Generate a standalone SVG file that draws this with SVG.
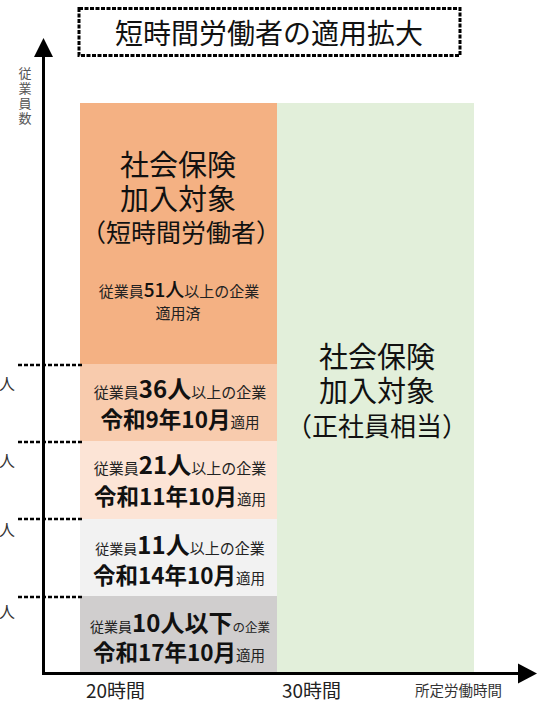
<svg xmlns="http://www.w3.org/2000/svg" width="542" height="707" viewBox="0 0 542 707">
<style>
text{font-family:"Noto Sans CJK JP","Noto Sans",sans-serif;fill:#111}
.big{font-size:29px}
.s{font-size:15px;fill:#222}
.n{font-size:24px;font-weight:700}
.d{font-size:22.5px;font-weight:700}
.a{font-size:14.5px;fill:#222}
.dash{stroke:#000;stroke-width:2.5;stroke-dasharray:4 2;fill:none}
.lab{font-size:19px;fill:#222}
.side{font-size:16px;fill:#333}
.ax{font-size:13px;fill:#555}
</style>
<rect width="542" height="707" fill="#fff"/>
<g id="title">
<rect x="79" y="8.5" width="381" height="47" fill="#fff" stroke="#000" stroke-width="3" stroke-dasharray="4 1.5"/>
<text x="269" y="44" text-anchor="middle" style="font-size:28px">短時間労働者の適用拡大</text>
</g>
<g id="green">
<rect x="277" y="103" width="197" height="570" fill="#E2EFDA"/>
<text text-anchor="middle"><tspan class="big" x="377" y="368">社会保険</tspan><tspan class="big" x="377" y="402">加入対象</tspan><tspan x="377" y="436" style="font-size:26px">（正社員相当）</tspan></text>
</g>
<g id="orange">
<rect x="80" y="103" width="197" height="261" fill="#F4B183"/>
<text text-anchor="middle"><tspan class="big" x="178" y="176">社会保険</tspan><tspan class="big" x="178" y="210">加入対象</tspan><tspan x="181" y="242" style="font-size:25px">（短時間労働者）</tspan></text>
<text x="179" y="297" text-anchor="middle"><tspan class="s">従業員</tspan><tspan style="font-size:19px;font-weight:500">51人</tspan><tspan class="s">以上の企業</tspan></text>
<text class="s" x="178" y="319" text-anchor="middle">適用済</text>
</g>
<g id="b36">
<rect x="80" y="364" width="197" height="77" fill="#F8CBAD"/>
<text x="180" y="398" text-anchor="middle"><tspan class="s">従業員</tspan><tspan class="n">36人</tspan><tspan class="s">以上の企業</tspan></text>
<text x="180" y="428" text-anchor="middle"><tspan class="d">令和9年10月</tspan><tspan class="a">適用</tspan></text>
</g>
<g id="b21">
<rect x="80" y="441" width="197" height="78" fill="#FCE4D6"/>
<text x="180" y="474" text-anchor="middle"><tspan class="s">従業員</tspan><tspan class="n">21人</tspan><tspan class="s">以上の企業</tspan></text>
<text x="180" y="505" text-anchor="middle"><tspan class="d">令和11年10月</tspan><tspan class="a">適用</tspan></text>
</g>
<g id="b11">
<rect x="80" y="519" width="197" height="77" fill="#F2F2F2"/>
<text x="180" y="554" text-anchor="middle"><tspan class="s" style="font-size:14px">従業員</tspan><tspan class="n">11人</tspan><tspan class="s">以上の企業</tspan></text>
<text x="179" y="584" text-anchor="middle"><tspan class="d">令和14年10月</tspan><tspan class="a">適用</tspan></text>
</g>
<g id="b10">
<rect x="80" y="596" width="197" height="77" fill="#D0CECE"/>
<text x="180" y="632" text-anchor="middle"><tspan class="s" style="font-size:14px">従業員</tspan><tspan class="n">10人以下</tspan><tspan class="s" style="font-size:12.5px">の企業</tspan></text>
<text x="179" y="661" text-anchor="middle"><tspan class="d">令和17年10月</tspan><tspan class="a">適用</tspan></text>
</g>
<g id="connectors">
<line class="dash" x1="18" y1="365" x2="82" y2="365"/>
<line class="dash" x1="18" y1="442" x2="82" y2="442"/>
<line class="dash" x1="18" y1="519" x2="82" y2="519"/>
<line class="dash" x1="18" y1="597" x2="82" y2="597"/>
<line x1="43.5" y1="674" x2="43.5" y2="54" stroke="#000" stroke-width="3"/>
<polygon points="43.5,38 34,57 53,57" fill="#000"/>
<line x1="42" y1="673.5" x2="520" y2="673.5" stroke="#000" stroke-width="3"/>
<polygon points="537,673.5 518,663.5 518,683.5" fill="#000"/>
</g>
<g id="labels">
<text class="side" x="-1" y="390">人</text>
<text class="side" x="-1" y="467">人</text>
<text class="side" x="-1" y="536">人</text>
<text class="side" x="-1" y="618">人</text>
<text class="ax" x="25" y="67" style="writing-mode:vertical-rl;letter-spacing:2px">従業員数</text>
<text class="lab" x="86" y="698">20時間</text>
<text class="lab" x="282" y="698">30時間</text>
<text x="415" y="696" style="font-size:14.5px;fill:#333">所定労働時間</text>
</g>
</svg>
